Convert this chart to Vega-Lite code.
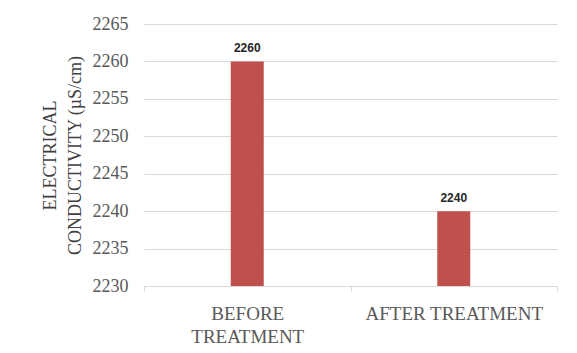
{
  "$schema": "https://vega.github.io/schema/vega-lite/v6.json",
  "autosize": "none",
  "padding": {"left": 144, "top": 24, "right": 20, "bottom": 67},
  "width": 413,
  "height": 262,
  "background": "white",
  "config": {
    "view": {"stroke": null},
    "font": "Liberation Serif"
  },
  "data": {
    "values": [
      {"stage": "BEFORE TREATMENT", "ec": 2260},
      {"stage": "AFTER TREATMENT", "ec": 2240}
    ]
  },
  "encoding": {
    "x": {
      "field": "stage",
      "type": "nominal",
      "sort": null,
      "scale": {"paddingInner": 0, "paddingOuter": 0},
      "axis": {
        "title": null,
        "labelAngle": 0,
        "labelFont": "Liberation Serif",
        "labelFontSize": 19,
        "labelColor": "#595959",
        "labelLineHeight": 23,
        "labelPadding": 13,
        "labelExpr": "datum.value == 'BEFORE TREATMENT' ? ['BEFORE', 'TREATMENT'] : datum.value",
        "domainColor": "#d9d9d9",
        "domainWidth": 1,
        "tickColor": "#d9d9d9",
        "tickSize": 5,
        "tickBand": "extent",
        "grid": false
      }
    },
    "y": {
      "field": "ec",
      "type": "quantitative",
      "scale": {"domain": [2230, 2265], "nice": false, "zero": false},
      "axis": {
        "values": [2230, 2235, 2240, 2245, 2250, 2255, 2260, 2265],
        "format": "d",
        "title": ["ELECTRICAL", "CONDUCTIVITY (µS/cm)"],
        "titleFont": "Liberation Serif",
        "titleFontSize": 18,
        "titleFontWeight": "normal",
        "titleColor": "#404040",
        "titleLineHeight": 25,
        "titlePadding": 8,
        "labelFont": "Liberation Serif",
        "labelFontSize": 18,
        "labelColor": "#595959",
        "labelPadding": 16,
        "ticks": false,
        "domain": false,
        "grid": true,
        "gridColor": "#d9d9d9",
        "gridWidth": 1
      }
    }
  },
  "layer": [
    {
      "mark": {"type": "bar", "size": 33, "color": "#C0504D", "clip": true}
    },
    {
      "mark": {
        "type": "text",
        "baseline": "alphabetic",
        "dy": -9,
        "font": "Liberation Sans",
        "fontWeight": "bold",
        "fontSize": 12,
        "color": "#262626"
      },
      "encoding": {
        "text": {"field": "ec", "type": "quantitative", "format": "d"}
      }
    }
  ]
}
